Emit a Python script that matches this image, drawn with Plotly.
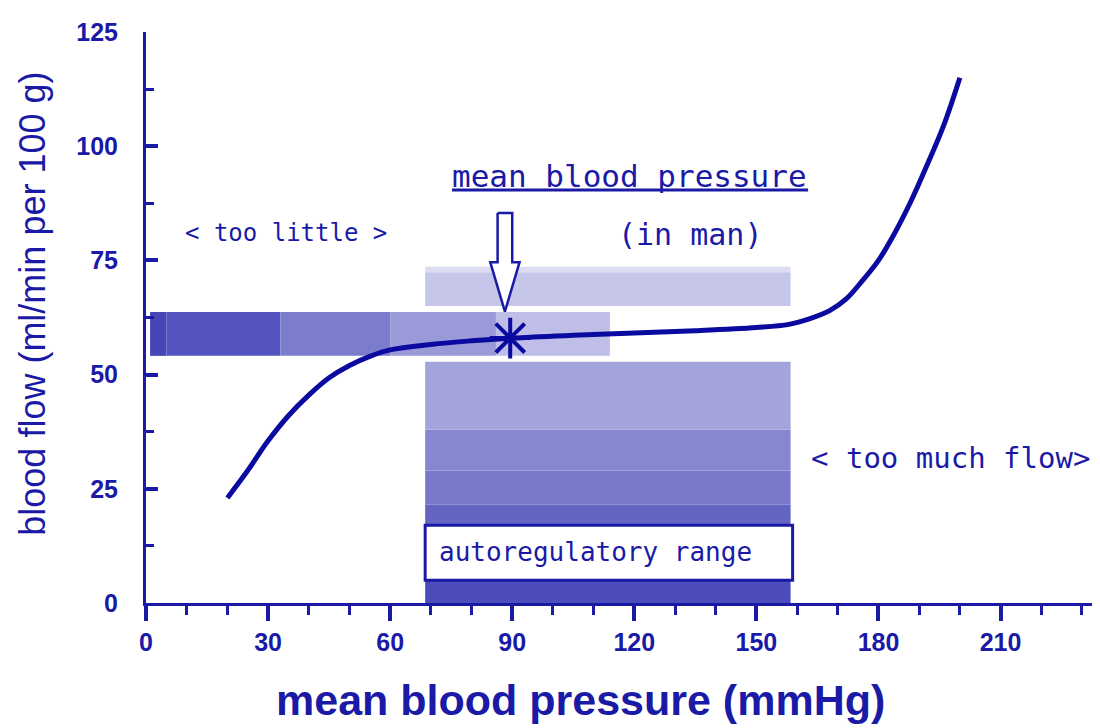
import plotly.graph_objects as go

# ---------------- data ----------------
pressure = [20, 25, 30, 35, 40, 45, 50, 55, 60, 70, 80, 90, 105, 120, 135, 150,
            158, 163, 168, 172, 176, 180, 184, 188, 192, 196, 200]
flow = [23, 29, 35.5, 41, 45.5, 49.3, 52, 54, 55.4, 56.6, 57.4, 58, 58.6, 59.1,
        59.6, 60.3, 61, 62.2, 64, 66.5, 70.5, 75, 81, 88, 96, 104.5, 115]

mean_point_x = [89.5]
mean_point_y = [58]

x_tickvals = [0, 30, 60, 90, 120, 150, 180, 210]
y_tickvals = [0, 25, 50, 75, 100, 125]

# "too little" band (horizontal, left)
little_x_edges = [1, 5, 33, 60, 86, 114]
little_colors = ["#4646b8", "#5454c0", "#7c7ccd", "#9a9ad8", "#bebee8"]
little_y = [54.1, 63.7]

# autoregulatory range block
auto_x = [68.6, 158.4]
auto_y_edges = [0, 17, 21.5, 29, 38, 52.8]
auto_colors = ["#4c4cbc", "#6464c3", "#7878cb", "#8787d1", "#a4a4dc"]
top_band_y = [65, 72.4, 73.6]
top_band_colors = ["#c6c6ea", "#dcdcf3"]
label_box_y = [5, 17]

# arrow pointing at mean blood pressure
arrow_x = 88.2
arrow_top, arrow_neck, arrow_tip = 85.4, 74.6, 63.8
arrow_shaft_half, arrow_head_half = 1.8, 3.6

DARK = "#1a1aa6"
CURVE = "#0a0aa0"
MONO = "DejaVu Sans Mono, monospace"
SANS = "Liberation Sans, Arial, sans-serif"

fig = go.Figure()

shapes = []
for i, c in enumerate(little_colors):
    shapes.append(dict(type="rect", xref="x", yref="y", layer="below",
                       x0=little_x_edges[i], x1=little_x_edges[i + 1],
                       y0=little_y[0], y1=little_y[1],
                       fillcolor=c, line=dict(width=0)))
for i, c in enumerate(auto_colors):
    shapes.append(dict(type="rect", xref="x", yref="y", layer="below",
                       x0=auto_x[0], x1=auto_x[1],
                       y0=auto_y_edges[i], y1=auto_y_edges[i + 1],
                       fillcolor=c, line=dict(width=0)))
for i, c in enumerate(top_band_colors):
    shapes.append(dict(type="rect", xref="x", yref="y", layer="below",
                       x0=auto_x[0], x1=auto_x[1],
                       y0=top_band_y[i], y1=top_band_y[i + 1],
                       fillcolor=c, line=dict(width=0)))
# label box
shapes.append(dict(type="rect", xref="x", yref="y", layer="below",
                   x0=auto_x[0], x1=auto_x[1] + 0.5,
                   y0=label_box_y[0], y1=label_box_y[1],
                   fillcolor="white", line=dict(color=DARK, width=3)))
# underline for "mean blood pressure"
shapes.append(dict(type="line", xref="x", yref="y",
                   x0=75.2, x1=162.7, y0=90.4, y1=90.4,
                   line=dict(color=DARK, width=3)))

# arrow
ax_pts = [arrow_x - arrow_shaft_half, arrow_x + arrow_shaft_half, arrow_x + arrow_shaft_half,
          arrow_x + arrow_head_half, arrow_x, arrow_x - arrow_head_half,
          arrow_x - arrow_shaft_half, arrow_x - arrow_shaft_half]
ay_pts = [arrow_top, arrow_top, arrow_neck, arrow_neck, arrow_tip, arrow_neck,
          arrow_neck, arrow_top]
fig.add_trace(go.Scatter(x=ax_pts, y=ay_pts, mode="lines", fill="toself",
                         fillcolor="white", line=dict(color=DARK, width=2.5),
                         hoverinfo="skip", showlegend=False))

# curve
fig.add_trace(go.Scatter(x=pressure, y=flow, mode="lines",
                         line=dict(color=CURVE, width=5, shape="spline"),
                         showlegend=False))
# mean point star
fig.add_trace(go.Scatter(x=mean_point_x, y=mean_point_y, mode="markers",
                         marker=dict(symbol="asterisk-open", size=34, color=CURVE,
                                     line=dict(color=CURVE, width=4)),
                         showlegend=False))

annotations = [
    dict(x=118.9, y=93.5, text="mean blood pressure", font=dict(family=MONO, size=31, color=DARK)),
    dict(x=133.9, y=80.6, text="(in man)", font=dict(family=MONO, size=30, color=DARK)),
    dict(x=34.4, y=81, text="< too little >", font=dict(family=MONO, size=24, color=DARK)),
    dict(x=197.8, y=31.7, text="< too much flow>", font=dict(family=MONO, size=29, color=DARK)),
    dict(x=71.5, y=11.2, text="autoregulatory range", xanchor="left",
         font=dict(family=MONO, size=26, color=DARK)),
]
for a in annotations:
    a.setdefault("xanchor", "center")
    a.update(xref="x", yref="y", yanchor="middle", showarrow=False)

annotations.append(dict(xref="paper", yref="paper", x=0.452, y=-0.17,
                        xanchor="center", yanchor="middle", showarrow=False,
                        text="mean blood pressure (mmHg)",
                        font=dict(family=SANS, size=43, color=DARK, weight="bold")))
annotations.append(dict(xref="paper", yref="paper", x=-0.118, y=0.525,
                        xanchor="center", yanchor="middle", showarrow=False,
                        textangle=-90, text="blood flow (ml/min per 100 g)",
                        font=dict(family=SANS, size=36, color=DARK)))

fig.update_layout(
    width=1100, height=728,
    margin=dict(l=138, r=0, t=24, b=133),
    paper_bgcolor="white", plot_bgcolor="white",
    shapes=shapes, annotations=annotations,
    showlegend=False,
    xaxis=dict(range=[0, 236.4], tickvals=x_tickvals, ticks="outside",
               ticklen=15, tickwidth=4, tickcolor=DARK,
               showline=True, linecolor=DARK, linewidth=3,
               showgrid=False, zeroline=False,
               tickfont=dict(family=SANS, size=25, color=DARK, weight="bold"),
               minor=dict(ticks="outside", dtick=10, ticklen=9, tickwidth=3,
                          tickcolor=DARK, showgrid=False)),
    yaxis=dict(range=[0, 125], tickvals=y_tickvals, ticks="inside",
               ticklen=12, tickwidth=4, tickcolor=DARK,
               showline=True, linecolor=DARK, linewidth=3,
               showgrid=False, zeroline=False, ticklabelstandoff=20,
               tickfont=dict(family=SANS, size=25, color=DARK, weight="bold"),
               minor=dict(ticks="inside", dtick=12.5, ticklen=8, tickwidth=3,
                          tickcolor=DARK, showgrid=False)),
)

fig.write_html("out.html")
